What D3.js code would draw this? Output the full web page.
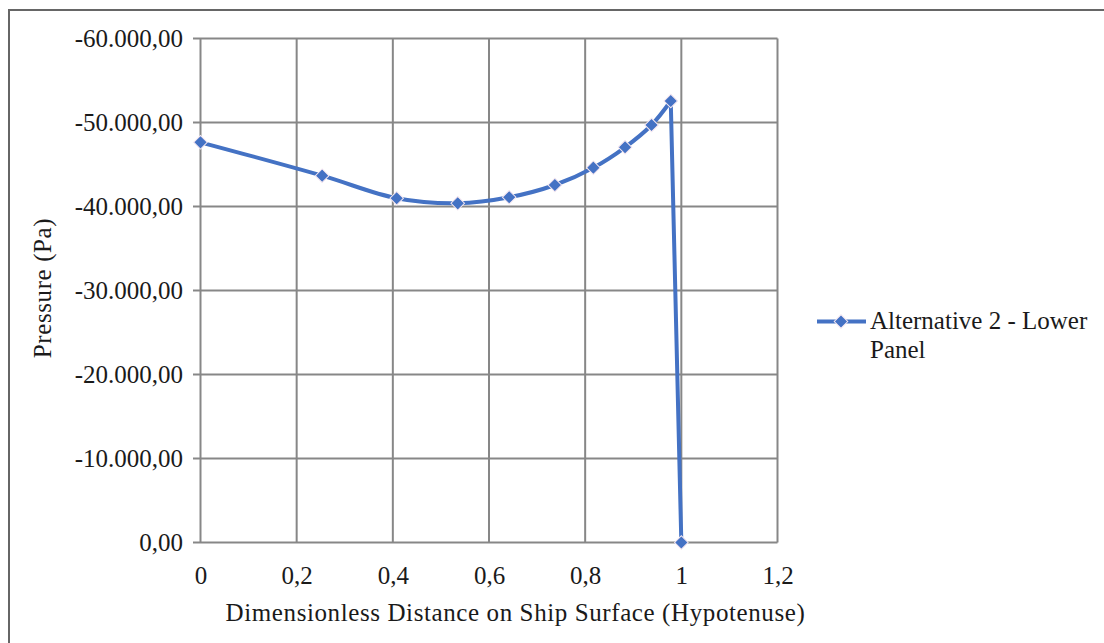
<!DOCTYPE html>
<html><head><meta charset="utf-8">
<script src="https://cdn.jsdelivr.net/npm/d3@7"></script>
<style>body{margin:0;background:#fff}svg{display:block}text{font-family:"Liberation Serif",serif;fill:#1a1a1a}</style>
</head><body>
<svg id="c" width="1104" height="643"></svg>
<script>
const xValues = [0, 0.253, 0.408, 0.535, 0.642, 0.737, 0.817, 0.883, 0.938, 0.978, 1.0];
const pressure = [-47640, -43670, -40980, -40380, -41100, -42560, -44620, -47050, -49700, -52560, 0];
const xTicks = [0, 0.2, 0.4, 0.6, 0.8, 1, 1.2];
const yTicks = [0, -10000, -20000, -30000, -40000, -50000, -60000];
const seriesName = ["Alternative 2 - Lower", "Panel"];
const xTitle = "Dimensionless Distance on Ship Surface (Hypotenuse)";
const yTitle = "Pressure (Pa)";

const svg = d3.select("#c");
const blue = "#4472C4";
const grid = "#878787";
const fs = 25;

svg.append("rect").attr("x",9).attr("y",10).attr("width",1110).attr("height",660)
  .attr("fill","none").attr("stroke","#666").attr("stroke-width",2);

const x = d3.scaleLinear().domain([0,1.2]).range([200.5,777.5]);
const y = d3.scaleLinear().domain([0,-60000]).range([542.5,38.5]);

const fmtY = v => {
  const s = d3.format(",.2f")(v).replace(/−/g,"-");
  return s.replace(/,/g,"#").replace(/\./g,",").replace(/#/g,".");
};
const fmtX = v => String(v).replace(".",",");

// grid
svg.append("g").selectAll("line").data(yTicks).join("line")
  .attr("x1",193).attr("x2",x(1.2)).attr("y1",d=>y(d)).attr("y2",d=>y(d))
  .attr("stroke",grid).attr("stroke-width",2);
svg.append("g").selectAll("line").data(xTicks).join("line")
  .attr("x1",d=>x(d)).attr("x2",d=>x(d)).attr("y1",y(-60000)).attr("y2",y(0))
  .attr("stroke",grid).attr("stroke-width",2);

// y axis labels
const yAxis = d3.axisLeft(y).tickValues(yTicks).tickFormat(fmtY).tickSize(0).tickPadding(0);
const ya = svg.append("g").attr("transform","translate(183,0)").call(yAxis);
ya.select(".domain").remove();
ya.selectAll("text").attr("font-size",fs).style("font-family","Liberation Serif").attr("fill","#1a1a1a");

const xAxis = d3.axisBottom(x).tickValues(xTicks).tickFormat(fmtX).tickSize(0).tickPadding(0);
const xa = svg.append("g").attr("transform","translate(0,566)").call(xAxis);
xa.select(".domain").remove();
xa.selectAll("text").attr("font-size",fs).style("font-family","Liberation Serif").attr("fill","#1a1a1a");

// titles
svg.append("text").attr("x",515.5).attr("y",621).attr("text-anchor","middle").attr("font-size",fs)
  .attr("letter-spacing",0.6).text(xTitle);
svg.append("text").attr("transform","translate(51,288) rotate(-90)").attr("text-anchor","middle").attr("font-size",fs)
  .attr("letter-spacing",0.6).text(yTitle);

// series
const pts = xValues.map((v,i)=>[v,pressure[i]]);
const n = pts.length;
const smooth = d3.line().x(d=>x(d[0])).y(d=>y(d[1])).curve(d3.curveCatmullRom.alpha(0.5));
const straight = d3.line().x(d=>x(d[0])).y(d=>y(d[1]));
svg.append("path").attr("d",smooth(pts.slice(0,n-1)) + straight(pts.slice(n-2)).replace(/^M/,"L"))
  .attr("fill","none").attr("stroke",blue).attr("stroke-width",4).attr("stroke-linejoin","round");
const diamond = d3.symbol().type(d3.symbolSquare).size(92);
svg.append("g").selectAll("path").data(pts).join("path")
  .attr("d",diamond).attr("transform",d=>`translate(${x(d[0])},${y(d[1])}) rotate(45)`)
  .attr("fill",blue).attr("stroke","#f4e6f0").attr("stroke-width",1);

// legend
svg.append("line").attr("x1",817).attr("x2",866).attr("y1",321.5).attr("y2",321.5).attr("stroke",blue).attr("stroke-width",4);
svg.append("path").attr("d",diamond).attr("transform","translate(841,321.5) rotate(45)").attr("fill",blue).attr("stroke","#f4e6f0").attr("stroke-width",1);
svg.append("g").selectAll("text").data(seriesName).join("text")
  .attr("x",870).attr("y",(d,i)=>329+i*29).attr("font-size",fs).text(d=>d);
</script>
</body></html>
